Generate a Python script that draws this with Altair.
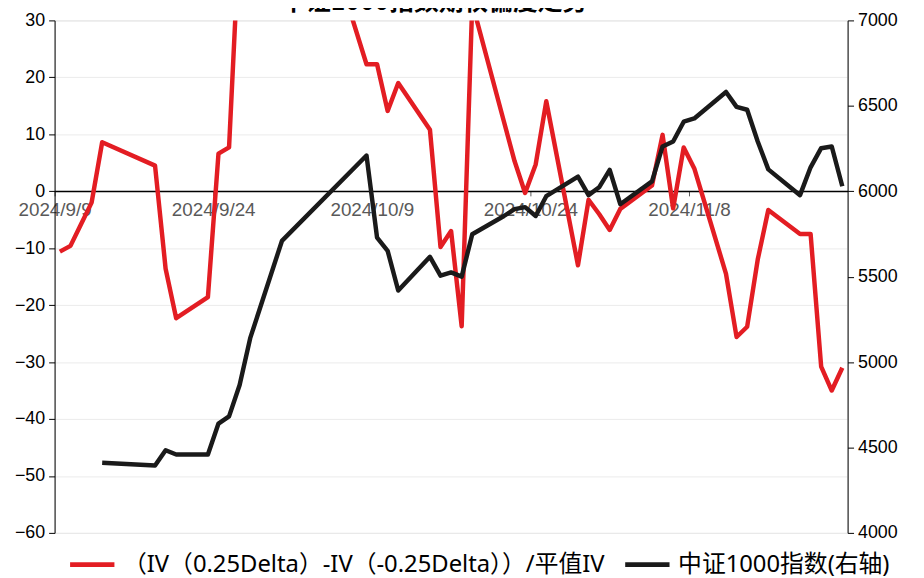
import altair as alt
import pandas as pd

# ---- data ----
red_dates = [
    "2024-09-09", "2024-09-10", "2024-09-11", "2024-09-12", "2024-09-13",
    "2024-09-18", "2024-09-19", "2024-09-20", "2024-09-23", "2024-09-24",
    "2024-09-25", "2024-09-26", "2024-09-27", "2024-09-30", "2024-10-08",
    "2024-10-09", "2024-10-10", "2024-10-11", "2024-10-14", "2024-10-15",
    "2024-10-16", "2024-10-17", "2024-10-18", "2024-10-21", "2024-10-22",
    "2024-10-23", "2024-10-24", "2024-10-25", "2024-10-28", "2024-10-29",
    "2024-10-30", "2024-10-31", "2024-11-01", "2024-11-04", "2024-11-05",
    "2024-11-06", "2024-11-07", "2024-11-08", "2024-11-11", "2024-11-12",
    "2024-11-13", "2024-11-14", "2024-11-15", "2024-11-18", "2024-11-19",
    "2024-11-20", "2024-11-21", "2024-11-22",
]
red_values = [
    -10.6, -9.6, -5.8, -2.0, 8.6,
    4.5, -13.6, -22.3, -18.6, 6.6,
    7.7, 46.0, 60.0, 70.0, 22.3,
    22.3, 14.1, 19.0, 10.8, -9.8,
    -7.0, -23.7, 33.0, 12.2, 5.3,
    -0.3, 4.7, 15.8, -13.0, -1.5,
    -4.0, -6.8, -3.1, 1.0, 9.9,
    -3.0, 7.7, 4.0, -14.5, -25.6,
    -23.8, -12.0, -3.3, -7.5, -7.5,
    -30.8, -35.0, -31.0,
]
black_dates = red_dates[4:]
black_values = [
    4411,
    4395, 4484, 4459, 4459, 4640,
    4682, 4866, 5140, 5709, 6209,
    5728, 5651, 5419, 5616, 5506,
    5525, 5500, 5748, 5855, 5895,
    5907, 5855, 5971, 6085, 5977,
    6023, 6125, 5924, 6058, 6262,
    6291, 6407, 6426, 6581, 6494,
    6477, 6291, 6128, 5977, 6140,
    6252, 6262, 6029,
]
x_tick_dates = [(2024, 9, 9), (2024, 9, 24), (2024, 10, 9), (2024, 10, 24), (2024, 11, 8)]
x_domain = [(2024, 9, 9), (2024, 11, 23)]
left_ticks = [-60, -50, -40, -30, -20, -10, 0, 10, 20, 30]
right_ticks = [4000, 4500, 5000, 5500, 6000, 6500, 7000]
series_names = ["（IV（0.25Delta）-IV（-0.25Delta））/平值IV", "中证1000指数(右轴)"]
series_colors = ["#E31D23", "#1A1A1A"]
title_text = "中证1000指数期权偏度走势"


def make_df(dates, values, name):
    t = pd.to_datetime(dates) + pd.Timedelta(hours=12)
    return pd.DataFrame({"date": t, "value": values, "series": name})


red_df = make_df(red_dates, red_values, series_names[0])
black_df = make_df(black_dates, black_values, series_names[1])

dt = lambda y, m, d: alt.DateTime(year=y, month=m, date=d)

x_enc = alt.X(
    "date:T",
    scale=alt.Scale(domain=[dt(*x_domain[0]), dt(*x_domain[1])]),
    axis=alt.Axis(
        orient="bottom",
        offset=-345,
        values=[dt(*v) for v in x_tick_dates],
        labelExpr="timeFormat(datum.value, '%Y/%-m/%-d')",
        labelFlush=False,
        labelOverlap=False,
        domainColor="#000000",
        domainWidth=1.5,
        tickColor="#595959",
        tickSize=5,
        labelColor="#595959",
        labelFontSize=19,
        labelPadding=5,
        grid=False,
        title=None,
    ),
)

color_enc = alt.Color(
    "series:N",
    scale=alt.Scale(domain=series_names, range=series_colors),
    legend=alt.Legend(
        orient="none",
        legendX=13,
        legendY=524,
        direction="horizontal",
        title=None,
        symbolType="stroke",
        symbolSize=2000,
        symbolStrokeWidth=5,
        labelFont="Noto Sans, Noto Sans CJK SC",
        labelFontSize=24,
        labelColor="#000000",
        labelLimit=2000,
        labelOffset=6,
        columnPadding=10,
    ),
)

red_line = alt.Chart(red_df).mark_line(clip=True, strokeWidth=4.5, strokeJoin="round").encode(
    x=x_enc,
    y=alt.Y(
        "value:Q",
        scale=alt.Scale(domain=[-60, 30], nice=False, zero=False),
        axis=alt.Axis(
            orient="left",
            values=left_ticks,
            title=None,
            grid=True,
            gridColor="#EBEBEB",
            gridWidth=1,
            domainColor="#000000",
            tickColor="#000000",
            tickSize=6,
            labelFontSize=18,
            labelColor="#000000",
            labelPadding=4,
        ),
    ),
    color=color_enc,
)

black_line = alt.Chart(black_df).mark_line(clip=True, strokeWidth=4.5, strokeJoin="round").encode(
    x=x_enc,
    y=alt.Y(
        "value:Q",
        scale=alt.Scale(domain=[4000, 7000], nice=False, zero=False),
        axis=alt.Axis(
            orient="right",
            values=right_ticks,
            format="d",
            title=None,
            grid=False,
            domainColor="#000000",
            tickColor="#000000",
            tickSize=6,
            labelFontSize=18,
            labelColor="#000000",
            labelPadding=4,
        ),
    ),
    color=color_enc,
)

title_layer = alt.Chart(pd.DataFrame({"t": [title_text]})).mark_text(
    font="Noto Sans CJK SC", fontSize=25, fontWeight="bold",
    baseline="alphabetic", align="center", color="#000000",
).encode(text="t:N", x=alt.value(383), y=alt.value(-10.5))

chart = (
    alt.layer(red_line, black_line, title_layer)
    .resolve_scale(y="independent")
    .properties(
        width=800,
        height=517,
        padding={"left": 47, "top": 10, "right": 69, "bottom": 43},
        autosize=alt.AutoSizeParams(type="none"),
    )
    .configure_view(stroke=None)
    .configure(font="Liberation Sans")
)

chart.save("out.html", embed_options={"renderer": "svg", "actions": False})
